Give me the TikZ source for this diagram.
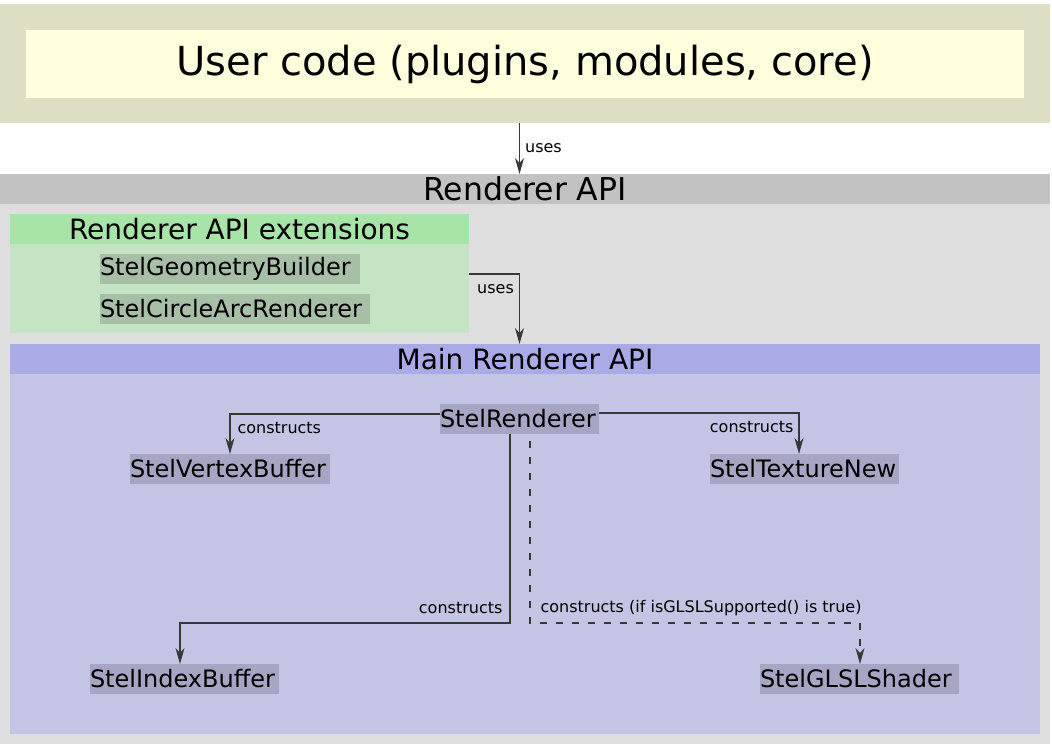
\documentclass[tikz,border=0pt]{standalone}
\usepackage{fontspec}
\setmainfont{DejaVu Sans}
\usetikzlibrary{arrows.meta, positioning}

\definecolor{usercol}{HTML}{DEDEC4}
\definecolor{usertext}{HTML}{FFFFDD}
\definecolor{apicol}{HTML}{C2C2C2}
\definecolor{panelcol}{HTML}{DEDEDE}
\definecolor{extheadcol}{HTML}{A8E4A8}
\definecolor{extbodycol}{HTML}{C4E4C4}
\definecolor{extboxcol}{HTML}{A6BFA6}
\definecolor{mainheadcol}{HTML}{AAAAE6}
\definecolor{mainbodycol}{HTML}{C4C4E4}
\definecolor{mainboxcol}{HTML}{A6A6C4}
\definecolor{linecol}{HTML}{383838}

\tikzset{
  area/.style={inner sep=0pt, outer sep=0pt},
  title/.style={area, font=\fontsize{28}{32}\selectfont},
  classbox/.style={area, minimum height=30, text width=#1, align=left,
    font=\fontsize{24}{27}\selectfont},
  conn/.style={draw=linecol, line width=1.2pt, -{Stealth[length=16pt, width=9pt, inset=5pt]}},
  note/.style={font=\fontsize{16}{18}\selectfont, inner sep=5pt}
}

\begin{document}
\begin{tikzpicture}[x=1pt, y=-1pt]
  % фон и границы
  \useasboundingbox (0,0) rectangle (1052,744);
  \fill[white] (0,0) rectangle (1052,744);

  % пользовательский код
  \node[area, fill=usercol, minimum width=1050, minimum height=119] (user) at (525,63.5) {};
  \node[area, fill=usertext, minimum width=998, minimum height=68,
        font=\fontsize{40}{44}\selectfont] (usertitle) at (525,64) {User code (plugins, modules, core)};

  % Renderer API
  \node[title, fill=apicol, minimum width=1050, minimum height=30,
        font=\fontsize{31.5}{34}\selectfont] (api) at (525,189) {Renderer API};
  \node[area, fill=panelcol, minimum width=1050, minimum height=540] (panel) at (525,474) {};

  % расширения
  \node[title, fill=extheadcol, minimum width=459, minimum height=30] (exthead) at (239.5,229) {Renderer API extensions};
  \node[area, fill=extbodycol, minimum width=459, minimum height=89] (extbody) at (239.5,288.5) {};
  \node[classbox=260, fill=extboxcol, anchor=west] (geom) at (100,269) {StelGeometryBuilder};
  \node[classbox=270, fill=extboxcol, anchor=west] (arc) at (100,309) {StelCircleArcRenderer};

  % основной API
  \node[title, fill=mainheadcol, minimum width=1030, minimum height=30] (mainhead) at (525,359) {Main Renderer API};
  \node[area, fill=mainbodycol, minimum width=1030, minimum height=360] (mainbody) at (525,554) {};

  % классы
  \node[classbox=159, fill=mainboxcol, anchor=west] (renderer) at (440,419) {StelRenderer};
  \node[classbox=200, fill=mainboxcol, anchor=west] (vertex) at (130,469) {StelVertexBuffer};
  \node[classbox=189, fill=mainboxcol, anchor=west] (texture) at (710,469) {StelTextureNew};
  \node[classbox=189, fill=mainboxcol, anchor=west] (index) at (90,679) {StelIndexBuffer};
  \node[classbox=199, fill=mainboxcol, anchor=west] (glsl) at (760,679) {StelGLSLShader};

  % связи
  \draw[conn] (renderer.center |- user.south) -- (renderer.center |- api.north)
    node[note, midway, right] {uses};
  \draw[conn] ([yshift=14.5]extbody.east) -| (renderer.center |- mainhead.north)
    node[note, pos=0.61, left] {uses};
  \draw[conn] ([yshift=5]renderer.west) -| (vertex.north -| 230,0)
    node[note, pos=0.67, right, xshift=2] {constructs};
  \draw[conn] ([yshift=6]renderer.east) -| (texture.north -| 799,0)
    node[note, pos=0.67, left] {constructs};
  \draw[conn] ([xshift=-9.5]renderer.south) -- ++(0,189)
    node[note, pos=0.92, left, xshift=-2] {constructs} -| (index.north -| 180,0);
  \draw[conn, dash pattern=on 7pt off 9pt, dash phase=9pt] ([xshift=10.5]renderer.south) -- ++(0,189)
    node[note, pos=0.92, right, xshift=5] {constructs (if isGLSLSupported() is true)} -| (glsl.north -| 860,0);
\end{tikzpicture}
\end{document}
